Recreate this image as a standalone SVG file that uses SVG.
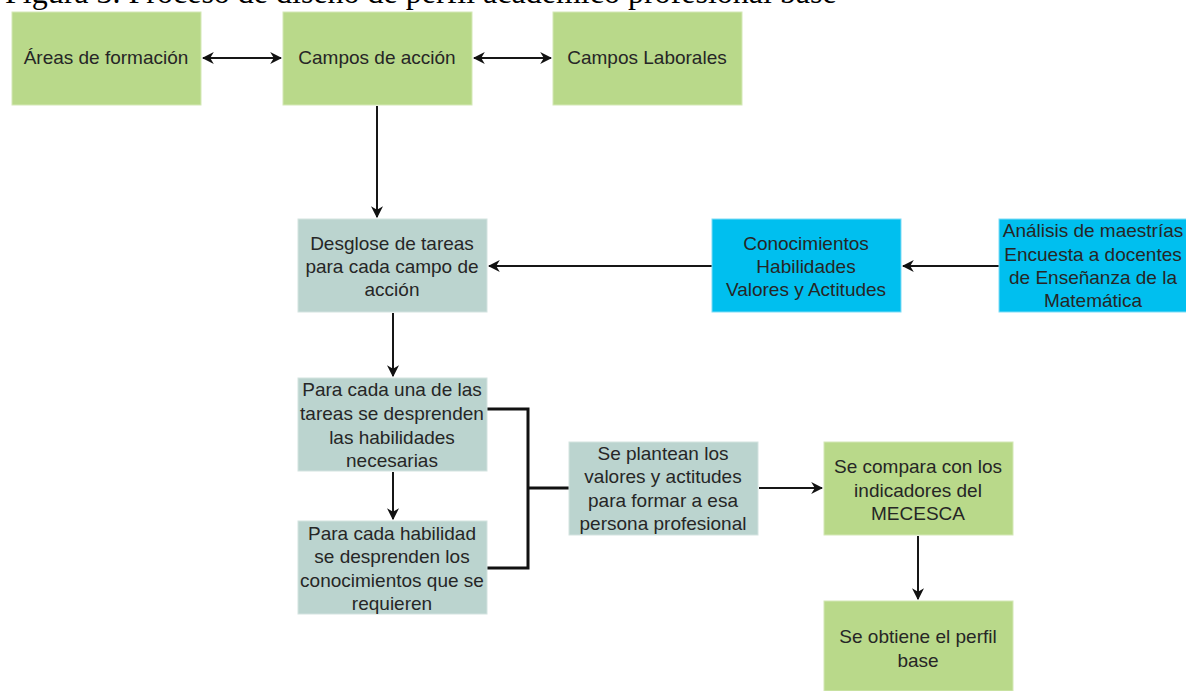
<svg xmlns="http://www.w3.org/2000/svg" width="1186" height="691" viewBox="0 0 1186 691">
  <style>
    .green { fill: #B9D98A; stroke: #D4E8B6; stroke-width: 1; }
    .teal { fill: #BBD4CF; stroke: #D3E3E0; stroke-width: 1; }
    .cyan { fill: #00BFEF; stroke: #7FDBF5; stroke-width: 1; }
    .lbl { font-family: "Liberation Sans", Arial, sans-serif; font-size: 19px; fill: #262626; text-anchor: middle; }
    .title { font-family: "Liberation Serif", "Times New Roman", serif; font-size: 32px; fill: #000; }
    .edge { fill: none; stroke: #161616; stroke-width: 2; }
    .bracket { fill: none; stroke: #111; stroke-width: 3; }
  </style>
  <defs>
    <marker id="head" viewBox="0 0 10 10" refX="9" refY="5" markerWidth="12" markerHeight="12" markerUnits="userSpaceOnUse" orient="auto-start-reverse">
      <path d="M0,0 L10,5 L0,10 L3,5 z" fill="#111"/>
    </marker>
  </defs>

  <rect width="1186" height="691" fill="#fff"/>

  <text class="title" x="5" y="3">Figura 3. Proceso de diseño de perfil académico profesional base</text>

  <!-- connectors -->
  <g id="connectors">
    <line class="edge" x1="203" y1="58" x2="281" y2="58" marker-start="url(#head)" marker-end="url(#head)"/>
    <line class="edge" x1="474" y1="58" x2="551" y2="58" marker-start="url(#head)" marker-end="url(#head)"/>
    <line class="edge" x1="377" y1="106" x2="377" y2="217" marker-end="url(#head)"/>
    <line class="edge" x1="712" y1="266" x2="489" y2="266" marker-end="url(#head)"/>
    <line class="edge" x1="999" y1="266" x2="903" y2="266" marker-end="url(#head)"/>
    <line class="edge" x1="393" y1="313" x2="393" y2="376" marker-end="url(#head)"/>
    <line class="edge" x1="393" y1="472" x2="393" y2="519" marker-end="url(#head)"/>
    <path class="bracket" d="M487,409 H528 V568 H487 M528,488 H569"/>
    <line class="edge" x1="759" y1="488" x2="822" y2="488" marker-end="url(#head)"/>
    <line class="edge" x1="918" y1="536" x2="918" y2="599" marker-end="url(#head)"/>
  </g>

  <g id="areas">
    <rect class="green" x="12" y="12" width="189" height="93"/>
    <text class="lbl" x="106" y="64">Áreas de formación</text>
  </g>
  <g id="campos-accion">
    <rect class="green" x="283" y="12" width="189" height="93"/>
    <text class="lbl" x="377" y="64">Campos de acción</text>
  </g>
  <g id="campos-laborales">
    <rect class="green" x="553" y="12" width="189" height="93"/>
    <text class="lbl" x="647" y="64">Campos Laborales</text>
  </g>

  <g id="desglose">
    <rect class="teal" x="298" y="219" width="189" height="93"/>
    <text class="lbl" x="392" y="250">Desglose de tareas</text>
    <text class="lbl" x="392" y="273">para cada campo de</text>
    <text class="lbl" x="392" y="296">acción</text>
  </g>
  <g id="conocimientos">
    <rect class="cyan" x="712" y="219" width="189" height="93"/>
    <text class="lbl" x="806" y="250">Conocimientos</text>
    <text class="lbl" x="806" y="273">Habilidades</text>
    <text class="lbl" x="806" y="296">Valores y Actitudes</text>
  </g>
  <g id="analisis">
    <rect class="cyan" x="999" y="219" width="188" height="93"/>
    <text class="lbl" x="1093" y="237">Análisis de maestrías</text>
    <text class="lbl" x="1093" y="261">Encuesta a docentes</text>
    <text class="lbl" x="1093" y="284">de Enseñanza de la</text>
    <text class="lbl" x="1093" y="307">Matemática</text>
  </g>

  <g id="habilidades">
    <rect class="teal" x="298" y="378" width="189" height="93"/>
    <text class="lbl" x="392" y="396">Para cada una de las</text>
    <text class="lbl" x="392" y="420">tareas se desprenden</text>
    <text class="lbl" x="392" y="444">las habilidades</text>
    <text class="lbl" x="392" y="467">necesarias</text>
  </g>
  <g id="conocimientos-req">
    <rect class="teal" x="298" y="521" width="189" height="93"/>
    <text class="lbl" x="392" y="540">Para cada habilidad</text>
    <text class="lbl" x="392" y="563">se desprenden los</text>
    <text class="lbl" x="392" y="587">conocimientos que se</text>
    <text class="lbl" x="392" y="610">requieren</text>
  </g>

  <g id="valores">
    <rect class="teal" x="569" y="442" width="189" height="93"/>
    <text class="lbl" x="663" y="460">Se plantean los</text>
    <text class="lbl" x="663" y="483">valores y actitudes</text>
    <text class="lbl" x="663" y="507">para formar a esa</text>
    <text class="lbl" x="663" y="530">persona profesional</text>
  </g>
  <g id="mecesca">
    <rect class="green" x="824" y="442" width="189" height="93"/>
    <text class="lbl" x="918" y="473">Se compara con los</text>
    <text class="lbl" x="918" y="497">indicadores del</text>
    <text class="lbl" x="918" y="520">MECESCA</text>
  </g>
  <g id="perfil">
    <rect class="green" x="824" y="601" width="189" height="90"/>
    <text class="lbl" x="918" y="643">Se obtiene el perfil</text>
    <text class="lbl" x="918" y="667">base</text>
  </g>
</svg>
